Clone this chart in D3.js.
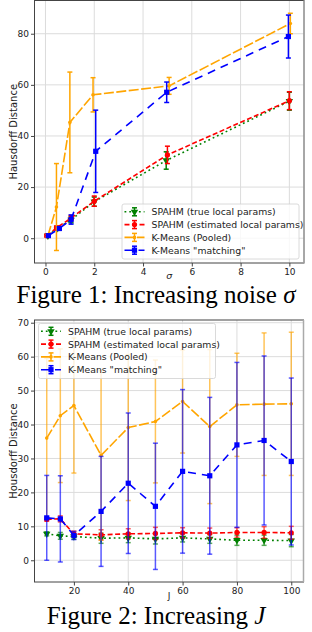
<!DOCTYPE html>
<html>
<head>
<meta charset="utf-8">
<script src="https://cdn.jsdelivr.net/npm/d3@7"></script>
<style>
  body { margin: 0; background: #fff; }
  svg { display: block; }
</style>
</head>
<body>
<div id="container"></div>
<script>
// ---- data: figure 1 (increasing noise sigma) ----
const seriesNames = ["SPAHM (true local params)", "SPAHM (estimated local params)", "K-Means (Pooled)", "K-Means \"matching\""];

// x positions (series are slightly shifted)
const sigmaTrue = [0.1, 0.5, 1.05, 2.0, 4.95, 10.0];
const sigmaEst = [0.05, 0.45, 1.05, 2.0, 5.0, 10.0];
const sigmaPooled = [0.1, 0.45, 1.0, 1.95, 5.07, 10.04];
const sigmaMatch = [0.12, 0.57, 1.05, 2.06, 4.97, 9.96];

const noiseTrueMean = [1.0, 3.9, 7.2, 14.3, 30.4, 53.6];
const noiseTrueErr = [0.5, 0.6, 1.2, 1.8, 3.4, 3.5];
const noiseEstMean = [1.0, 4.0, 7.9, 14.5, 32.6, 53.8];
const noiseEstErr = [0.5, 0.8, 1.0, 2.0, 3.4, 3.5];
const noisePooledMean = [1.0, 12.2, 45.3, 56.1, 59.6, 84.0];
const noisePooledErr = [0.5, 17.0, 19.7, 6.7, 3.3, 4.0];
const noiseMatchMean = [1.0, 3.8, 7.3, 34.0, 57.1, 78.9];
const noiseMatchErr = [0.4, 0.7, 1.8, 16.1, 4.0, 8.4];

const noiseXTicks = [0, 2, 4, 6, 8, 10];
const noiseYTicks = [0, 20, 40, 60, 80];

// ---- data: figure 2 (increasing J) ----
const jValues = [10, 15, 20, 30, 40, 50, 60, 70, 80, 90, 100];
const jTrueMean = [7.8, 7.2, 7.0, 6.5, 6.6, 6.3, 6.6, 6.3, 5.9, 5.9, 5.8];
const jTrueErr = [0.6, 1.0, 0.8, 1.5, 1.4, 1.5, 1.2, 1.3, 1.5, 1.5, 1.8];
const jEstMean = [12.1, 12.2, 7.8, 7.5, 7.8, 7.9, 8.1, 8.0, 8.2, 8.2, 8.1];
const jEstErr = [0.6, 0.9, 0.8, 1.5, 1.5, 1.8, 1.5, 1.5, 1.4, 1.7, 1.9];
const jPooledMean = [36.0, 42.6, 45.6, 30.9, 39.1, 40.9, 46.8, 39.4, 45.8, 46.0, 46.1];
const jPooledErr = [23.5, 19.7, 19.9, 25.0, 21.5, 18.1, 15.2, 22.7, 15.2, 21.0, 21.1];
const jMatchMean = [12.5, 12.2, 7.3, 14.4, 22.7, 15.9, 26.2, 24.9, 34.0, 35.3, 29.1];
const jMatchErr = [12.5, 12.7, 1.2, 16.2, 20.7, 18.6, 24.1, 23.1, 24.3, 24.9, 24.6];

const jXTicks = [20, 40, 60, 80, 100];
const jYTicks = [0, 10, 20, 30, 40, 50, 60, 70];

// line / marker styles per series
const styles = [
    { color: "green", dash: "1.8,3", marker: "tri" },
    { color: "red", dash: "5,2.5", marker: "circle" },
    { color: "orange", dash: "10,2.5", marker: "dot" },
    { color: "blue", dash: "8,6", marker: "square" }
];

const width = 312;
const height = 632;

const svg = d3.create("svg")
    .attr("width", width)
    .attr("height", height)
    .attr("viewBox", [0, 0, width, height]);

svg.append("rect").attr("width", width).attr("height", height).attr("fill", "#fff");

function zipSeries(xs, means, errs) {
    return xs.map((x, i) => ({ x: x, y: means[i], e: errs[i] }));
}

function drawMarker(g, kind, color, cx, cy) {
    if (kind === "circle") {
        g.append("circle").attr("cx", cx).attr("cy", cy).attr("r", 2.6).attr("fill", color);
    } else if (kind === "square") {
        g.append("rect").attr("x", cx - 2.6).attr("y", cy - 2.6).attr("width", 5.2).attr("height", 5.2).attr("fill", color);
    } else if (kind === "tri") {
        g.append("path")
            .attr("d", d3.symbol(d3.symbolTriangle, 24)())
            .attr("transform", `translate(${cx},${cy}) rotate(180)`)
            .attr("fill", color);
    } else {
        g.append("circle").attr("cx", cx).attr("cy", cy).attr("r", 1.8).attr("fill", color);
    }
}

function drawPanel(cfg) {
    const { x, y } = cfg;
    const g = svg.append("g");
    const [left, right] = x.range();
    const [bottom, top] = y.range();

    // grid
    g.append("g").selectAll("line").data(cfg.xTicks).join("line")
        .attr("x1", d => x(d)).attr("x2", d => x(d))
        .attr("y1", top).attr("y2", bottom)
        .attr("stroke", "#dcdcdc").attr("stroke-width", 1);
    g.append("g").selectAll("line").data(cfg.yTicks).join("line")
        .attr("x1", left).attr("x2", right)
        .attr("y1", d => y(d)).attr("y2", d => y(d))
        .attr("stroke", "#dcdcdc").attr("stroke-width", 1);

    // series
    cfg.series.forEach((s, i) => {
        const st = styles[i];
        const sg = g.append("g");
        sg.append("path")
            .datum(s)
            .attr("fill", "none")
            .attr("stroke", st.color)
            .attr("stroke-width", 1.6)
            .attr("stroke-dasharray", st.dash)
            .attr("d", d3.line().x(d => x(d.x)).y(d => y(d.y)));

        const eb = sg.append("g").attr("stroke", st.color).attr("stroke-width", 1.5)
            .attr("stroke-opacity", cfg.errOpacity);
        eb.selectAll(".v").data(s).join("line")
            .attr("x1", d => x(d.x)).attr("x2", d => x(d.x))
            .attr("y1", d => y(d.y - d.e)).attr("y2", d => y(d.y + d.e));
        eb.selectAll(".ct").data(s).join("line")
            .attr("x1", d => x(d.x) - 2.5).attr("x2", d => x(d.x) + 2.5)
            .attr("y1", d => y(d.y + d.e)).attr("y2", d => y(d.y + d.e));
        eb.selectAll(".cb").data(s).join("line")
            .attr("x1", d => x(d.x) - 2.5).attr("x2", d => x(d.x) + 2.5)
            .attr("y1", d => y(d.y - d.e)).attr("y2", d => y(d.y - d.e));

        s.forEach(d => drawMarker(sg, st.marker, st.color, x(d.x), y(d.y)));
    });

    // frame (right spine is lighter in the picture)
    g.append("rect")
        .attr("x", left).attr("y", top)
        .attr("width", right - left).attr("height", bottom - top)
        .attr("fill", "none").attr("stroke", "#444").attr("stroke-width", 1);
    g.append("line")
        .attr("x1", right).attr("x2", right).attr("y1", top).attr("y2", bottom)
        .attr("stroke", "#aaa").attr("stroke-width", 1.5);

    // axes
    const ax = g.append("g")
        .attr("transform", `translate(0,${bottom})`)
        .call(d3.axisBottom(x).tickValues(cfg.xTicks).tickSize(3.5).tickPadding(2));
    const ay = g.append("g")
        .attr("transform", `translate(${left},0)`)
        .call(d3.axisLeft(y).tickValues(cfg.yTicks).tickSize(3.5).tickPadding(2));
    [ax, ay].forEach(a => {
        a.select(".domain").remove();
        a.selectAll("text").attr("font-family", "DejaVu Sans").attr("font-size", 9).attr("fill", "#222");
        a.selectAll("line").attr("stroke", "#444");
    });

    // axis labels
    g.append("text")
        .attr("transform", `translate(13,${(top + bottom) / 2}) rotate(-90)`)
        .attr("text-anchor", "middle")
        .attr("dominant-baseline", "central")
        .attr("font-family", "DejaVu Sans").attr("font-size", 10).attr("fill", "#222")
        .text(cfg.yLabel);
    g.append("text")
        .attr("x", (left + right) / 2).attr("y", cfg.xLabelY)
        .attr("text-anchor", "middle")
        .attr("font-family", "DejaVu Sans").attr("font-size", cfg.xLabelSize).attr("fill", "#222")
        .attr("font-style", cfg.xLabelItalic ? "italic" : "normal")
        .text(cfg.xLabel);

    // legend
    const lg = g.append("g").attr("transform", `translate(${cfg.legendX},${cfg.legendY})`);
    lg.append("rect")
        .attr("width", 177).attr("height", 55).attr("rx", 2)
        .attr("fill", "#fff").attr("fill-opacity", 0.8)
        .attr("stroke", "#d0d0d0").attr("stroke-width", 0.8);
    seriesNames.forEach((name, i) => {
        const st = styles[i];
        const cy = 7.8 + i * 12.8;
        const row = lg.append("g");
        row.append("line")
            .attr("x1", 2.5).attr("x2", 22.5).attr("y1", cy).attr("y2", cy)
            .attr("stroke", st.color).attr("stroke-width", 1.6).attr("stroke-dasharray", st.dash);
        row.append("line")
            .attr("x1", 12.5).attr("x2", 12.5).attr("y1", cy - 4).attr("y2", cy + 4)
            .attr("stroke", st.color).attr("stroke-width", 1.5);
        [cy - 4, cy + 4].forEach(yy => row.append("line")
            .attr("x1", 10).attr("x2", 15).attr("y1", yy).attr("y2", yy)
            .attr("stroke", st.color).attr("stroke-width", 1.5));
        drawMarker(row, st.marker, st.color, 12.5, cy);
        row.append("text")
            .attr("x", 29.5).attr("y", cy)
            .attr("dominant-baseline", "central")
            .attr("font-family", "DejaVu Sans").attr("font-size", 9.3).attr("fill", "#222")
            .text(name);
    });
}

// Figure 1
drawPanel({
    x: d3.scaleLinear().domain([-0.45, 10.6]).range([34.5, 304]),
    y: d3.scaleLinear().domain([-9.7, 93]).range([263, 0.5]),
    xTicks: noiseXTicks,
    yTicks: noiseYTicks,
    series: [
        zipSeries(sigmaTrue, noiseTrueMean, noiseTrueErr),
        zipSeries(sigmaEst, noiseEstMean, noiseEstErr),
        zipSeries(sigmaPooled, noisePooledMean, noisePooledErr),
        zipSeries(sigmaMatch, noiseMatchMean, noiseMatchErr)
    ],
    errOpacity: 1,
    yLabel: "Hausdorff Distance",
    xLabel: "σ",
    xLabelItalic: true,
    xLabelSize: 9.5,
    xLabelY: 278.5,
    legendX: 122,
    legendY: 204
});

// Figure 2
drawPanel({
    x: d3.scaleLinear().domain([5.5, 104.5]).range([34.5, 303.5]),
    y: d3.scaleLinear().domain([-6.4, 70.8]).range([582, 320]),
    xTicks: jXTicks,
    yTicks: jYTicks,
    series: [
        zipSeries(jValues, jTrueMean, jTrueErr),
        zipSeries(jValues, jEstMean, jEstErr),
        zipSeries(jValues, jPooledMean, jPooledErr),
        zipSeries(jValues, jMatchMean, jMatchErr)
    ],
    errOpacity: 0.65,
    yLabel: "Housdorff Distance",
    xLabel: "J",
    xLabelItalic: false,
    xLabelSize: 9,
    xLabelY: 599,
    legendX: 38.5,
    legendY: 323.5
});

// captions
function caption(yBase, prefix, sym) {
    const t = svg.append("text")
        .attr("x", 156).attr("y", yBase)
        .attr("text-anchor", "middle")
        .attr("font-family", "Liberation Serif").attr("font-size", 25).attr("fill", "#000");
    t.append("tspan").text(prefix);
    t.append("tspan").attr("font-style", "italic").text(sym);
}
caption(302.5, "Figure 1: Increasing noise ", "σ");
caption(624, "Figure 2: Increasing ", "J");

document.getElementById("container").appendChild(svg.node());
</script>
</body>
</html>
